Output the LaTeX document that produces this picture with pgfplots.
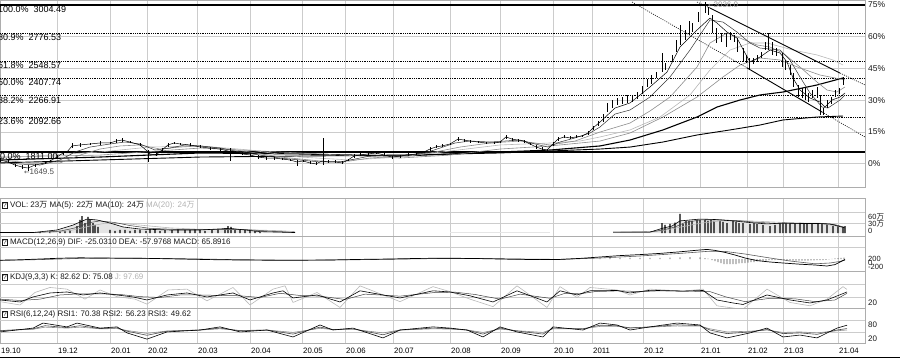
\documentclass[border=0pt]{standalone}
\usepackage{fontspec}
\setmainfont{Liberation Sans}
\newfontfamily\cjk{Noto Sans CJK SC}
\newfontfamily\djv{DejaVu Sans}
\usepackage{pgfplots}
\pgfplotsset{compat=1.18}
\definecolor{gridc}{gray}{0.80}
\definecolor{framec}{gray}{0.68}
\definecolor{mag}{gray}{0.55}
\definecolor{mal}{gray}{0.72}
\newcommand{\wan}{{\cjk 万}}
\newcommand{\qb}{{\setlength{\fboxsep}{0.6pt}\setlength{\fboxrule}{0.4pt}\fbox{\fontsize{6.5}{6.5}\selectfont ?}}}
\tikzset{
 fib/.style={black, line width=0.7pt, dash pattern=on 0.9pt off 0.9pt},
 fibl/.style={anchor=north west, inner sep=1pt, font=\fontsize{9}{10}\selectfont, text=black},
 ttl/.style={anchor=west, inner sep=0pt, font=\fontsize{8}{9}\selectfont, text=black!90},
}
\pgfplotsset{
 panel/.style={scale only axis, width=865pt, xmin=0, xmax=865,
   axis line style={draw=framec, line width=0.5pt},
   major tick length=0pt, minor tick length=0pt,
   xtick={0,57,110,147,197,250,302,345,393,450,500,553,592,643,700,747,783,838},
   xticklabels={}, xmajorgrids, grid style={draw=gridc, line width=0.5pt},
   yticklabel pos=right,
   yticklabel style={font=\fontsize{8.5}{9}\selectfont, anchor=west, inner xsep=0pt, xshift=3pt, text=black!90},
   /pgf/number format/assume math mode=true,
   clip mode=individual,
   every axis plot/.append style={line join=round}},
 candle/.style={black, only marks, mark=none, mark size=0pt,
  error bars/.cd, y dir=both, y explicit, error mark=none,
  error bar style={black, line width=#1}},
}
\begin{document}
\begin{tikzpicture}
% ================= MAIN PANEL =================
\begin{axis}[panel, at={(0pt,-187pt)}, anchor=south west, height=187pt,
  ymin=1526.7, ymax=3045.1,
  ytick={1717,1974.55,2232.1,2489.65,2747.2,3004.75},
  yticklabels={0\%,15\%,30\%,45\%,60\%,75\%},
  ymajorgrids]
% fibonacci levels
\addplot[black, line width=1.1pt] coordinates {(0,3004.49) (865,3004.49)};
\addplot[fib] coordinates {(0,2776.53) (865,2776.53)};
\addplot[fib] coordinates {(0,2548.57) (865,2548.57)};
\addplot[fib] coordinates {(0,2407.74) (865,2407.74)};
\addplot[fib] coordinates {(0,2266.91) (865,2266.91)};
\addplot[fib] coordinates {(0,2092.66) (865,2092.66)};
\addplot[black, line width=1.1pt] coordinates {(0,1811.00) (865,1811.00)};
% MA250
\addplot[black, line width=0.9pt] coordinates {(0,1722)(100,1746)(200,1770)(300,1778)(400,1786)(500,1803)(600,1835)(630,1851)(663,1892)(697,1949)(730,1990)(760,2030)(783,2071)(817,2095)(843,2103)};
% MA120
\addplot[black, line width=1.1pt] coordinates {(0,1746)(100,1770)(200,1803)(300,1795)(400,1778)(500,1811)(550,1827)(600,1860)(630,1908)(663,1990)(697,2095)(717,2176)(740,2233)(760,2274)(783,2298)(817,2355)(843,2412)};
% MA60
\addplot[mag, line width=0.6pt] coordinates {(0,1770)(100,1786)(200,1843)(300,1803)(400,1762)(450,1786)(500,1835)(550,1860)(600,1900)(630,1965)(663,2095)(697,2257)(723,2420)(740,2517)(760,2574)(780,2558)(800,2493)(820,2436)(845,2396)};
% MA30
\addplot[mal, line width=0.6pt] coordinates {(0,1762)(100,1811)(150,1851)(200,1860)(250,1827)(300,1770)(350,1746)(400,1770)(450,1819)(500,1868)(550,1884)(580,1900)(600,1933)(630,1990)(660,2095)(690,2274)(710,2477)(730,2639)(750,2696)(767,2696)(793,2639)(817,2599)(833,2558)(843,2517)};
% MA20
\addplot[mag, line width=0.6pt] coordinates {(0,1746)(30,1722)(60,1722)(80,1786)(100,1835)(120,1860)(140,1868)(160,1835)(180,1851)(200,1860)(220,1843)(250,1811)(280,1770)(300,1754)(330,1730)(350,1738)(370,1762)(400,1778)(430,1803)(460,1851)(490,1884)(520,1900)(550,1868)(575,1900)(600,1973)(630,2046)(650,2144)(670,2257)(697,2501)(710,2696)(727,2777)(740,2736)(757,2680)(770,2663)(783,2615)(800,2501)(817,2379)(827,2314)(837,2298)(845,2339)};
% MA10
\addplot[black!80, line width=0.5pt] coordinates {(0,1730)(20,1713)(40,1705)(60,1746)(75,1811)(90,1851)(110,1876)(125,1892)(140,1876)(155,1827)(170,1843)(185,1868)(200,1860)(220,1843)(240,1811)(260,1786)(280,1762)(300,1746)(320,1730)(340,1730)(355,1754)(370,1778)(390,1786)(410,1786)(425,1803)(440,1843)(455,1884)(470,1900)(490,1892)(505,1900)(520,1908)(535,1876)(548,1851)(560,1892)(575,1925)(590,1965)(600,2014)(615,2119)(630,2152)(650,2257)(670,2420)(690,2639)(710,2883)(723,2866)(737,2785)(750,2696)(760,2655)(780,2639)(790,2558)(800,2420)(810,2290)(822,2176)(828,2168)(840,2233)(845,2274)};
% MA5
\addplot[black, line width=0.5pt] coordinates {(0,1746)(8,1730)(15,1705)(22,1689)(28,1681)(35,1705)(45,1722)(50,1738)(57,1770)(63,1803)(67,1811)(72,1860)(80,1868)(90,1876)(100,1884)(110,1884)(116,1900)(122,1908)(130,1892)(140,1868)(146,1827)(150,1795)(156,1787)(162,1827)(168,1868)(174,1884)(180,1876)(190,1868)(200,1852)(210,1843)(220,1835)(228,1819)(235,1803)(242,1795)(250,1787)(258,1770)(266,1762)(274,1762)(282,1754)(290,1746)(297,1730)(303,1738)(310,1722)(316,1714)(322,1738)(328,1730)(335,1730)(342,1722)(348,1746)(354,1778)(360,1787)(368,1795)(376,1803)(384,1787)(392,1770)(400,1778)(408,1787)(416,1795)(424,1811)(430,1835)(436,1852)(442,1860)(450,1876)(458,1916)(464,1908)(470,1900)(478,1892)(486,1884)(494,1884)(500,1892)(506,1933)(512,1916)(518,1908)(524,1900)(530,1876)(536,1852)(542,1835)(547,1827)(553,1876)(558,1916)(564,1933)(570,1925)(576,1933)(582,1941)(588,1965)(593,2006)(600,2054)(615,2168)(630,2209)(650,2339)(667,2460)(680,2663)(697,2801)(710,2899)(717,2858)(727,2785)(737,2736)(745,2615)(750,2542)(760,2582)(770,2639)(780,2615)(787,2542)(793,2412)(800,2314)(810,2249)(820,2217)(825,2176)(832,2233)(840,2257)(845,2290)};
% candles, left part (small)
\addplot[candle=0.5pt] table[x=x, y=p, y error=e] {
x p e
0 1746 14
8 1730 12
15 1705 12
22 1689 14
28 1681 28
35 1705 12
45 1722 12
50 1738 12
57 1770 16
63 1803 16
67 1811 12
72 1860 20
80 1868 14
90 1876 12
100 1884 14
110 1884 12
116 1900 18
122 1908 18
130 1892 12
140 1868 12
148 1778 49
156 1787 12
162 1827 16
168 1868 16
174 1884 12
180 1876 12
190 1868 12
200 1852 12
210 1843 12
220 1835 12
230 1790 53
235 1803 12
242 1795 12
250 1787 12
258 1770 14
266 1762 12
274 1762 12
282 1754 12
290 1746 12
297 1722 24
303 1738 12
310 1722 12
316 1714 12
323 1815 110
328 1730 12
335 1730 12
342 1722 12
348 1746 12
354 1778 14
360 1787 12
368 1795 12
376 1803 12
384 1787 12
392 1770 12
400 1778 12
408 1787 12
416 1795 12
424 1811 12
430 1835 16
436 1852 12
442 1860 12
450 1876 12
458 1916 18
464 1908 12
470 1900 12
478 1892 12
486 1884 12
494 1884 12
500 1892 12
506 1933 18
512 1916 12
518 1908 12
524 1900 12
530 1876 12
536 1852 14
542 1835 14
547 1827 12
553 1876 16
558 1916 18
564 1933 12
570 1925 12
576 1933 12
582 1941 12
588 1965 16
593 2006 20
598 2046 20
};
% candles, right part
\addplot[candle=0.9pt] table[x=x, y=p, y error=e] {
x p e
603 2087 32
607 2172 37
612 2201 32
617 2221 28
622 2229 28
627 2241 32
632 2241 24
637 2270 28
642 2314 32
647 2371 32
651 2400 37
656 2436 24
662 2538 77
665 2505 28
672 2570 28
676 2672 49
680 2761 81
685 2761 41
689 2818 57
692 2822 37
698 2907 41
705 2984 45
708 2956 32
712 2850 73
716 2757 61
721 2741 37
726 2720 57
730 2753 32
734 2733 28
737 2680 57
743 2599 57
746 2566 32
749 2525 49
753 2550 24
757 2570 28
761 2599 24
765 2672 32
768 2708 69
772 2651 53
776 2623 32
782 2558 57
785 2517 41
790 2477 41
793 2396 57
798 2306 49
802 2290 41
805 2282 49
808 2253 37
812 2282 32
817 2294 45
820 2193 81
823 2140 28
827 2201 32
831 2229 28
835 2286 28
839 2306 24
843 2387 32
};
% trend lines
\addplot[black, line width=0.6pt, dash pattern=on 1pt off 1.2pt] coordinates {(632,3028.9) (747,2494)};
\addplot[black, line width=0.9pt] coordinates {(747,2494) (822,2136)};
\addplot[black, line width=0.6pt, dash pattern=on 1pt off 1.2pt] coordinates {(822,2136) (865,1933)};
\addplot[black, line width=0.6pt, dash pattern=on 1pt off 1.2pt] coordinates {(697,3028.9) (710,2980)};
\addplot[black, line width=0.9pt] coordinates {(710,2980) (840,2452)};
\addplot[black, line width=0.6pt, dash pattern=on 1pt off 1.2pt] coordinates {(840,2452) (865,2355)};
% labels
\node[fibl] at (axis cs:-3,3004.49) {100.0\%\ \ 3004.49};
\node[fibl] at (axis cs:-3,2776.53) {80.9\%\ \ 2776.53};
\node[fibl] at (axis cs:-3,2548.57) {61.8\%\ \ 2548.57};
\node[fibl] at (axis cs:-3,2407.74) {50.0\%\ \ 2407.74};
\node[fibl] at (axis cs:-3,2266.91) {38.2\%\ \ 2266.91};
\node[fibl] at (axis cs:-3,2092.66) {23.6\%\ \ 2092.66};
\node[fibl] at (axis cs:-1,1811.00) {0.0\%\ \ 1811.00};
\node[anchor=west, inner sep=0pt, font=\fontsize{8}{9}\selectfont, text=black!70] at (axis cs:24,1649.5) {{\djv\fontsize{6.5}{7}\selectfont ←}1649.5};
\node[anchor=west, inner sep=0pt, font=\fontsize{8}{9}\selectfont, text=black!40] at (axis cs:708,3004) {{\djv\fontsize{6.5}{7}\selectfont ←}3036.0};
\end{axis}

% ================= VOL PANEL =================
\begin{axis}[panel, at={(0pt,-236pt)}, anchor=south west, height=38pt,
  ymin=-12.9, ymax=150.5, ytick={0,30,60}, yticklabels={0,30\wan,60\wan},
  yticklabel style={font=\fontsize{7.5}{7.5}\selectfont, yshift=2pt},
  extra y ticks={43,90}, extra y tick labels={}, extra y tick style={ymajorgrids}]
\addplot[fill=black!10, draw=none] coordinates {(0,2)(33,2)(57,13)(73,34)(87,60)(97,56)(110,43)(123,26)(140,17)(170,13)(200,13)(230,20)(260,6)(295,2)} \closedcycle;
\addplot[fill=black!10, draw=none] coordinates {(450,3)(550,3)} \closedcycle;
\addplot[fill=black!10, draw=none] coordinates {(613,4)(650,4)(663,21)(672,30)(680,52)(690,56)(700,60)(715,58)(733,52)(750,45)(767,39)(783,43)(800,41)(817,41)(830,39)(845,22)} \closedcycle;
\addplot[ybar, bar width=1.1pt, fill=black, draw=none] coordinates {
(40,4)(50,6)(60,9)(65,9)(70,13)(77,30)(80,56)(82,73)(85,43)(88,69)(90,60)(93,43)(95,35)(98,26)
(110,13)(115,9)(120,13)(125,13)(130,9)(135,13)(140,13)(146,9)(150,17)(155,13)(160,9)(165,13)(172,13)(178,17)(185,13)(190,13)(195,17)(200,13)(205,9)(212,13)(218,17)(225,21)(228,30)(231,26)(235,17)(240,13)(245,13)(250,9)(255,9)(260,4)
(662,43)(665,35)(670,39)(675,45)(680,82)(683,39)(686,52)(689,52)(692,52)(697,56)(700,56)(705,56)(708,52)(711,56)(714,52)(720,52)(723,48)(727,43)(733,52)(736,48)(739,43)(743,43)(750,39)(754,43)(757,39)(763,35)(770,30)(775,35)(780,43)(783,43)(786,43)(790,43)(795,43)(800,43)(804,43)(807,39)(812,43)(818,43)(822,43)(827,39)(833,30)(838,30)(843,26)(845,30)};
\addplot[mal, line width=0.6pt] coordinates {(50,3)(70,10)(90,30)(105,42)(125,40)(145,32)(170,22)(200,16)(240,15)(280,10)(295,6)};
\addplot[mal, line width=0.6pt] coordinates {(620,4)(660,8)(680,25)(700,42)(720,52)(740,54)(760,50)(780,46)(800,43)(820,42)(845,24)};
\addplot[black!75, line width=0.5pt] coordinates {(0,2)(40,3)(60,8)(75,22)(90,45)(100,52)(115,45)(130,32)(150,20)(180,15)(210,14)(240,16)(270,8)(295,3)};
\addplot[black!75, line width=0.5pt] coordinates {(613,4)(650,4)(663,13)(675,26)(685,45)(700,56)(720,57)(740,52)(760,45)(780,41)(800,42)(820,41)(835,36)(845,24)};
\addplot[black, line width=0.6pt] coordinates {(0,2)(33,2)(57,13)(73,34)(87,60)(97,56)(110,43)(123,26)(140,17)(170,13)(200,13)(230,20)(260,6)(295,2)};
\addplot[black, line width=0.6pt] coordinates {(613,4)(650,4)(663,21)(672,30)(680,52)(690,56)(700,60)(715,58)(733,52)(750,45)(767,39)(783,43)(800,41)(817,41)(830,39)(845,22)};
\end{axis}

% ================= MACD PANEL =================
\begin{axis}[panel, at={(0pt,-271pt)}, anchor=south west, height=35pt,
  ymin=-600, ymax=1150, ytick={-200,0,200}, yticklabels={-200,0,200},
  yticklabel style={font=\fontsize{7.5}{7.5}\selectfont, yshift=-3.5pt},
  extra y ticks={600}, extra y tick labels={}, extra y tick style={ymajorgrids}]
\addplot[ybar, bar width=0.8pt, fill=black!70, draw=none] coordinates {
(600,30)(610,40)(620,50)(630,60)(640,60)(650,60)(660,60)(670,70)(680,80)(690,90)(700,80)(705,50)(708,20)
(712,-50)(715,-100)(718,-150)(721,-200)(724,-250)(727,-250)(730,-250)(733,-250)(736,-250)(739,-220)(742,-200)(745,-200)(748,-180)(751,-150)(754,-150)(757,-120)(760,-100)(763,-100)(766,-80)(769,-60)(772,-50)(775,-50)(778,-40)(781,-50)(784,-60)(787,-70)(790,-80)(793,-80)(796,-80)(799,-80)(802,-80)(805,-80)(808,-80)(811,-70)(814,-70)(817,-60)(820,-60)(823,-50)(826,-40)(829,-20)(832,10)(835,30)(838,50)(841,60)(844,66)};
\addplot[black!65, line width=0.6pt] coordinates {(0,-70)(40,-30)(80,30)(120,45)(160,30)(200,0)(240,-35)(280,-55)(320,-55)(360,-35)(400,-5)(440,25)(480,25)(520,0)(560,-20)(600,50)(640,150)(680,280)(707,380)(725,380)(745,250)(770,50)(790,-100)(815,-240)(830,-200)(840,-120)(845,-58)};
\addplot[black, line width=0.7pt] coordinates {(0,-60)(20,-40)(40,0)(60,40)(80,60)(100,50)(120,40)(150,30)(180,0)(210,-30)(240,-50)(270,-60)(300,-60)(330,-50)(360,-20)(390,0)(420,30)(450,40)(480,20)(510,-10)(540,-30)(560,-20)(580,30)(600,100)(620,170)(640,220)(660,280)(680,360)(695,430)(707,480)(715,430)(725,330)(735,200)(745,50)(757,-80)(770,-150)(783,-200)(800,-260)(815,-300)(827,-350)(835,-280)(840,-150)(845,-25)};
\end{axis}

% ================= KDJ PANEL =================
\begin{axis}[panel, at={(0pt,-308pt)}, anchor=south west, height=37pt,
  ymin=-13.2, ymax=208.8, ytick={20}, yticklabels={20},
  yticklabel style={font=\fontsize{8}{8}\selectfont},
  extra y ticks={53,131}, extra y tick labels={}, extra y tick style={ymajorgrids}]
\addplot[black!28, line width=0.6pt] coordinates {(0,25)(20,5)(35,80)(50,110)(67,100)(85,40)(100,95)(117,55)(135,40)(147,10)(168,95)(187,100)(207,30)(233,110)(250,5)(273,100)(285,120)(293,20)(317,80)(340,-10)(360,120)(400,25)(433,115)(450,85)(470,40)(493,-5)(517,120)(547,-10)(560,115)(577,50)(590,110)(617,95)(630,65)(650,100)(683,88)(703,100)(717,0)(735,-15)(743,-20)(767,100)(790,20)(810,0)(827,40)(843,115)(847,98)};
\addplot[black!75, line width=0.5pt] coordinates {(0,40)(20,32)(40,40)(60,65)(80,72)(100,72)(120,68)(140,55)(160,50)(180,65)(200,65)(220,62)(240,60)(260,50)(280,75)(300,62)(320,58)(345,38)(365,70)(400,58)(435,80)(455,82)(475,68)(500,40)(520,70)(550,45)(565,75)(580,72)(595,85)(620,90)(640,85)(660,90)(690,88)(710,85)(725,55)(745,25)(770,45)(795,42)(815,25)(835,35)(847,75)};
\addplot[black, line width=0.6pt] coordinates {(0,35)(20,23)(33,53)(50,77)(67,83)(83,65)(100,77)(117,65)(133,53)(147,35)(167,65)(187,77)(207,53)(233,77)(250,35)(273,77)(283,90)(293,47)(317,65)(340,23)(360,90)(400,47)(433,90)(450,83)(470,60)(493,23)(517,90)(547,23)(560,90)(577,65)(590,90)(617,92)(630,77)(650,93)(683,88)(703,92)(717,35)(733,17)(743,8)(767,65)(790,35)(810,17)(827,35)(847,83)};
\end{axis}

% ================= RSI PANEL =================
\begin{axis}[panel, at={(0pt,-343pt)}, anchor=south west, height=35pt,
  ymin=-4.17, ymax=141.8, ytick={20,80}, yticklabels={20,80},
  yticklabel style={font=\fontsize{8}{8}\selectfont, yshift=-2pt},
  extra y ticks={41.7,91.7}, extra y tick labels={}, extra y tick style={ymajorgrids},
  xticklabels={19.10,19.12,20.01,20.02,20.03,20.04,20.05,20.06,20.07,20.08,20.09,20.10,2011,20.12,21.01,21.02,21.03,21.04},
  xticklabel style={font=\fontsize{7.8}{8}\selectfont, anchor=north west, inner sep=0pt, xshift=1pt, yshift=-4.5pt, text=black}]
\addplot[black!45, line width=0.6pt] coordinates {(0,48)(33,53)(45,62)(67,58)(80,62)(100,55)(117,56)(127,48)(147,36)(167,46)(200,50)(220,55)(240,48)(267,50)(293,40)(320,57)(333,52)(353,53)(383,38)(400,50)(433,55)(450,54)(467,50)(483,40)(500,54)(517,47)(543,40)(553,55)(583,55)(600,65)(617,65)(630,60)(650,62)(677,67)(700,66)(710,55)(727,42)(750,45)(767,50)(783,40)(800,42)(817,38)(837,47)(847,50)};
\addplot[black!70, line width=0.6pt] coordinates {(0,47)(33,55)(45,68)(67,60)(80,68)(100,56)(117,59)(127,45)(147,28)(167,45)(200,50)(220,58)(240,47)(267,50)(293,33)(320,62)(333,52)(353,55)(383,30)(400,50)(433,58)(450,56)(467,50)(483,33)(500,58)(517,46)(543,33)(553,58)(583,55)(600,70)(617,68)(630,58)(650,63)(677,72)(700,68)(710,50)(727,35)(750,42)(767,52)(783,35)(800,38)(817,32)(837,50)(847,56)};
\addplot[black, line width=0.6pt] coordinates {(0,42)(33,58)(43,79)(67,63)(77,79)(100,58)(117,63)(127,38)(147,12)(167,42)(200,50)(220,63)(240,42)(267,50)(293,21)(320,71)(333,50)(353,58)(383,17)(400,50)(433,63)(450,58)(467,50)(483,21)(500,63)(517,42)(543,21)(553,63)(583,50)(600,79)(617,71)(630,50)(650,63)(677,79)(700,71)(710,38)(727,17)(750,38)(767,58)(783,21)(800,29)(817,17)(837,58)(847,70)};
\end{axis}

% ================= TITLES =================
\node[ttl] at (2pt,-205pt) {\qb\ VOL: 23\wan\ MA(5): 22\wan\ MA(10): 24\wan\ \textcolor{black!30}{MA(20): 24\wan}};
\node[ttl] at (2pt,-242pt) {\qb\ MACD(12,26,9) DIF: -25.0310 DEA: -57.9768 MACD: 65.8916};
\node[ttl] at (2pt,-277pt) {\qb\ KDJ(9,3,3) K: 82.62 D: 75.08 \textcolor{black!30}{J: 97.69}};
\node[ttl] at (2pt,-314pt) {\qb\ RSI(6,12,24) RSI1: 70.38 RSI2: 56.23 RSI3: 49.62};
\draw[black, line width=1pt] (0pt,-357.5pt) -- (900pt,-357.5pt);
\pgfresetboundingbox
\useasboundingbox (0pt,0pt) rectangle (900pt,-359pt);
\end{tikzpicture}
\end{document}
